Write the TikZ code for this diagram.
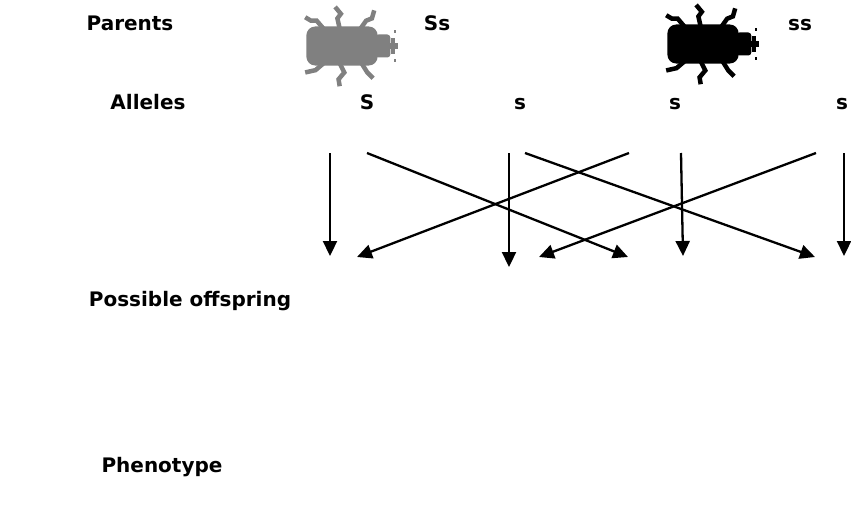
\documentclass[tikz,border=0pt]{standalone}
\usepackage{fontspec}
\setmainfont{DejaVu Sans}
\usetikzlibrary{arrows.meta}
\begin{document}
\begin{tikzpicture}[x=1pt,y=-1pt,
  lbl/.style={font=\fontsize{20}{24}\selectfont\bfseries, inner sep=0pt, anchor=base},
  cross/.style={line width=2.3pt, -{Triangle[length=15pt,width=14pt]}},
  leg/.style={line width=4.5pt, line join=miter},
  beetle/.pic={
    % body
    \fill[rounded corners=9pt] (-31,-17) rectangle (31,17);
    % head and mouthparts
    \fill[rounded corners=3pt] (29,-10) rectangle (42,10);
    \fill (40,-3) rectangle (49,3);
    \fill (43,-7) rectangle (46,7);
    \fill (45,-14) rectangle (47,-11);
    \fill (45,11) rectangle (47,14);
    % legs
    \draw[leg] (-16,-15) -- (-22,-22) -- (-27,-22) -- (-32,-25);
    \draw[leg] (-2,-15) -- (-4,-24) -- (-1,-28) -- (-6,-34);
    \draw[leg] (16,-15) -- (21,-22) -- (26,-24) -- (28,-31);
    \draw[leg] (-16,15) -- (-23,21) -- (-32,23);
    \draw[leg] (-2,15) -- (2,23) -- (-3,29) -- (-2,35);
    \draw[leg] (17,15) -- (22,23) -- (27,28);
  }]
\useasboundingbox (0,0) rectangle (851,508);

% row labels
\node[lbl] (parents) at (130,31) {Parents};
\node[lbl] (alleles) at (148,110) {Alleles};
\node[lbl] (offspring) at (190,306) {Possible offspring};
\node[lbl] (phenotype) at (162,472) {Phenotype};

% parents
\pic[fill=black!50, draw=black!50, scale=1.15] (grey) at (342,46) {beetle};
\pic[fill=black, draw=black, scale=1.15] (dark) at (703,44) {beetle};
\node[lbl] (ss1) at (437,31) {Ss};
\node[lbl] (ss2) at (800,31) {ss};

% alleles
\node[lbl] (a1) at (367,110) {S};
\node[lbl] (a2) at (520,110) {s};
\node[lbl] (a3) at (675,110) {s};
\node[lbl] (a4) at (842,110) {s};

% connector ends
\coordinate (v1t) at (330,153);  \coordinate (v1b) at (330,256);
\coordinate (c1t) at (367,153);  \coordinate (c1b) at (628,257);
\coordinate (v2t) at (509,153);  \coordinate (v2b) at (509,267);
\coordinate (c2t) at (525,153);  \coordinate (c2b) at (815,257);
\coordinate (c3t) at (629,153);  \coordinate (c3b) at (357,257);
\coordinate (v3t) at (681,153);  \coordinate (v3b) at (683,256);
\coordinate (c4t) at (816,153);  \coordinate (c4b) at (539,257);
\coordinate (v4t) at (844,153);  \coordinate (v4b) at (844,256);

\draw[cross] (v1t) -- (v1b);
\draw[cross] (c1t) -- (c1b);
\draw[cross] (v2t) -- (v2b);
\draw[cross] (c2t) -- (c2b);
\draw[cross] (c3t) -- (c3b);
\draw[cross] (v3t) -- (v3b);
\draw[cross] (c4t) -- (c4b);
\draw[cross] (v4t) -- (v4b);
\end{tikzpicture}
\end{document}
